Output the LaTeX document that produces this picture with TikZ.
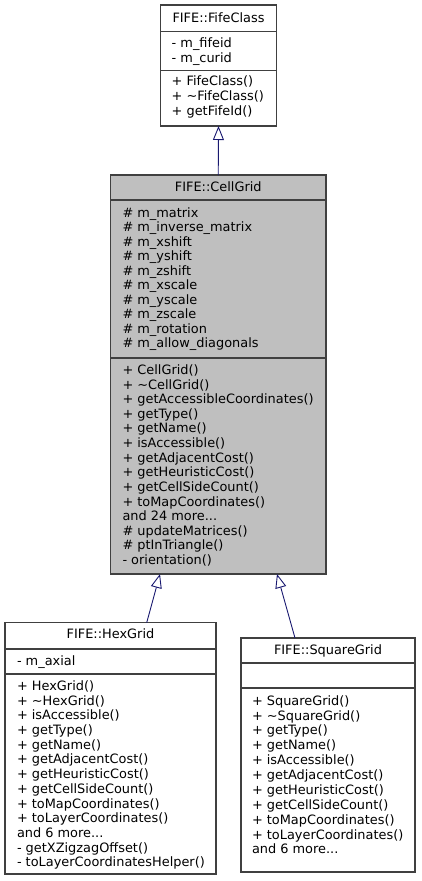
\documentclass[tikz,border=0pt]{standalone}
\usepackage{fontspec}
\setmainfont{DejaVu Sans}
\usetikzlibrary{arrows.meta,calc}
\definecolor{boxc}{HTML}{404040}
\definecolor{cgfill}{HTML}{BFBFBF}
\definecolor{navy}{HTML}{191970}
\newcommand\mydots{...}
\begin{document}
\begin{tikzpicture}[x=1pt,y=-1pt,
  umlbox/.style={draw=boxc, line width=1.1pt, rectangle, inner sep=0, outer sep=0, anchor=north west},
  sepline/.style={draw=boxc, line width=1.1pt},
  txt/.style={anchor=base west, inner sep=0, outer sep=0, font=\fontsize{12.9}{14.7}\selectfont},
  ttl/.style={anchor=base, inner sep=0, outer sep=0, font=\fontsize{12.9}{14.7}\selectfont},
  inh/.style={draw=navy, line width=0.9pt, -{Triangle[open, length=14pt, width=11pt, line width=0.9pt]}}]
\useasboundingbox (0,0) rectangle (421,881);

% FifeClass
\node[umlbox, fill=white, minimum width=116pt, minimum height=121pt] (fife) at (160.5,5) {};
\draw[sepline] (160.5,31.7) -- (276.5,31.7);
\draw[sepline] (160.5,70.7) -- (276.5,70.7);
\node[ttl] (fifet) at (218.5,22.8) {FIFE::FifeClass};
\foreach \t [count=\i from 0] in {- m\_fifeid, - m\_curid}
  \node[txt] (fa\i) at (171.7,{47.5+\i*15}) {\t};
\foreach \t [count=\i from 0] in {+ FifeClass(), + \textasciitilde FifeClass(), + getFifeId()}
  \node[txt] (fm\i) at (171.7,{85.5+\i*15}) {\t};

% CellGrid
\node[umlbox, fill=cgfill, minimum width=215.5pt, minimum height=399pt] (cg) at (110.5,175) {};
\draw[sepline] (110.5,200) -- (326,200);
\draw[sepline] (110.5,358) -- (326,358);
\node[ttl] (cgt) at (218.25,191.7) {FIFE::CellGrid};
\foreach \t [count=\i from 0] in {\# m\_matrix, \# m\_inverse\_matrix, \# m\_xshift, \# m\_yshift, \# m\_zshift, \# m\_xscale, \# m\_yscale, \# m\_zscale, \# m\_rotation, \# m\_allow\_diagonals}
  \node[txt] (ca\i) at (122.5,{217.2+\i*14.53}) {\t};
\foreach \t [count=\i from 0] in {+ CellGrid(), + \textasciitilde CellGrid(), + getAccessibleCoordinates(), + getType(), + getName(), + isAccessible(), + getAdjacentCost(), + getHeuristicCost(), + getCellSideCount(), + toMapCoordinates(), and 24 more\mydots, \# updateMatrices(), \# ptInTriangle(), - orientation()}
  \node[txt] (cm\i) at (122.5,{374.5+\i*14.62}) {\t};

% HexGrid
\node[umlbox, fill=white, minimum width=211pt, minimum height=251.3pt] (hex) at (5,622.7) {};
\draw[sepline] (5,649) -- (216,649);
\draw[sepline] (5,674) -- (216,674);
\node[ttl] (hext) at (110.5,638.5) {FIFE::HexGrid};
\node[txt] (ha0) at (17,665.2) {- m\_axial};
\foreach \t [count=\i from 0] in {+ HexGrid(), + \textasciitilde HexGrid(), + isAccessible(), + getType(), + getName(), + getAdjacentCost(), + getHeuristicCost(), + getCellSideCount(), + toMapCoordinates(), + toLayerCoordinates(), and 6 more\mydots, - getXZigzagOffset(), - toLayerCoordinatesHelper()}
  \node[txt] (hm\i) at (17,{690.5+\i*14.69}) {\t};

% SquareGrid
\node[umlbox, fill=white, minimum width=174pt, minimum height=234pt] (sq) at (241,638) {};
\draw[sepline] (241,663) -- (415,663);
\draw[sepline] (241,688) -- (415,688);
\node[ttl] (sqt) at (328,654.5) {FIFE::SquareGrid};
\foreach \t [count=\i from 0] in {+ SquareGrid(), + \textasciitilde SquareGrid(), + getType(), + getName(), + isAccessible(), + getAdjacentCost(), + getHeuristicCost(), + getCellSideCount(), + toMapCoordinates(), + toLayerCoordinates(), and 6 more\mydots}
  \node[txt] (sm\i) at (252,{705.2+\i*14.87}) {\t};

% inheritance
\draw[inh] (cg.north) -- (fife.south);
\draw[inh] ([xshift=141.7pt]hex.north west) -- ([xshift=49.5pt]cg.south west);
\draw[inh] ([xshift=54pt]sq.north west) -- ([xshift=166.5pt]cg.south west);
\end{tikzpicture}
\end{document}
